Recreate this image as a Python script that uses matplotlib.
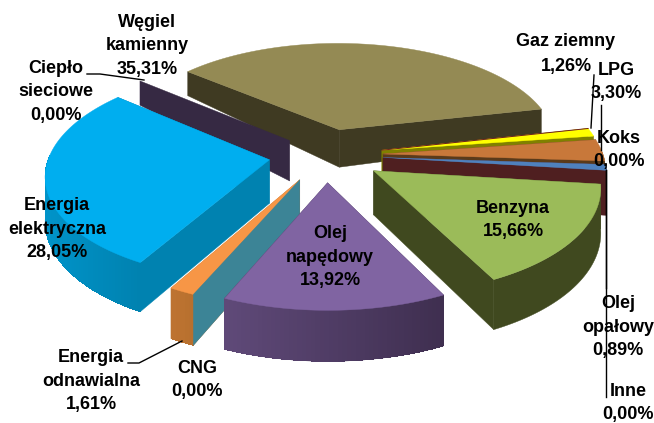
import numpy as np
import matplotlib
matplotlib.use("Agg")
import matplotlib.pyplot as plt
from matplotlib.colors import to_rgb
from matplotlib.patches import Polygon

names = ["Benzyna", "Olej napędowy", "CNG", "Energia odnawialna", "Energia elektryczna",
         "Ciepło sieciowe", "Węgiel kamienny", "Gaz ziemny", "LPG", "Koks", "Olej opałowy", "Inne"]
values = [15.66, 13.92, 0.00, 1.61, 28.05, 0.00, 35.31, 1.26, 3.30, 0.00, 0.89, 0.00]
top_colors = ["#9bbb59", "#8064a2", "#31859c", "#f79646", "#00aeef", "#362943",
              "#948a54", "#ffff00", "#c8783a", "#5a3a1a", "#4f81bd", "#4f1f20"]
side_colors = ["#40491f", "#3f2f50", "#3c8496", "#b8702f", "#0082b0", "#362943",
               "#3f3a22", "#808000", "#5a3a1a", "#5a3a1a", "#4f1f20", "#4f1f20"]
wall_light = [0.0, 0.5, 0.0, 0.1, 0.4, 0.0, 0.0, 0.0, 0.0, 0.0, 0.0, 0.0]

# draw order, back slices first
order = [6, 7, 8, 9, 10, 11, 5, 4, 3, 2, 1, 0]

label_text = [
    ("Benzyna\n15,66%", 513, 220),
    ("Olej\nnapędowy\n13,92%", 330, 257),
    ("CNG\n0,00%", 197, 380),
    ("Energia\nodnawialna\n1,61%", 91, 381),
    ("Energia\nelektryczna\n28,05%", 57, 229),
    ("Ciepło\nsieciowe\n0,00%", 56, 92),
    ("Węgiel\nkamienny\n35,31%", 147, 46),
    ("Gaz ziemny", 566, 41),
    ("1,26%", 566, 67),
    ("LPG\n3,30%", 616, 82),
    ("Koks\n0,00%", 619, 150),
    ("Olej\nopałowy\n0,89%", 618, 327),
    ("Inne\n0,00%", 628, 403),
]

start_angle = -7.0
cx, cy = 326, 155
radius = 220
tilt = 0.47
explode = 0.26
persp = 0.128


def project(X, Y):
    s = 1 / (1 + persp * Y)
    return cx + radius * X * s, cy - radius * tilt * Y * s


def depth(y):
    return np.interp(y, [80, 150, 297], [24, 43, 51])


def mix(c1, c2, t):
    return tuple(np.array(to_rgb(c1)) * (1 - t) + np.array(to_rgb(c2)) * t)


fig = plt.figure(figsize=(6.54, 4.23), dpi=100)
ax = fig.add_axes([0, 0, 1, 1])
ax.set_xlim(0, 654)
ax.set_ylim(423, 0)
ax.axis("off")

angles = start_angle - np.cumsum([0] + values) * 3.6


def quad(p1, p2, color, z):
    x = [p1[0], p2[0], p2[0], p1[0]]
    y = [p1[1], p2[1], p2[1] + depth(p2[1]), p1[1] + depth(p1[1])]
    ax.add_patch(Polygon(np.column_stack([x, y]), fc=color, ec=color, lw=0.3, zorder=z))


z = 1
for i in order:
    a1, a2 = np.radians(angles[i]), np.radians(angles[i + 1])
    mid = (a1 + a2) / 2
    e = explode
    if i == 5:
        e = 0.22
    if i == 2:
        # CNG wall stays on the edge of the next slice
        mid = np.radians(angles[3] + angles[4]) / 2
    ox, oy = e * np.cos(mid), e * np.sin(mid)
    t = np.linspace(a1, a2, max(2, int(abs(a2 - a1) * 60)))
    px, py = project(ox + np.cos(t), oy + np.sin(t))
    apex = project(ox, oy)
    if values[i] == 0:
        quad(apex, (px[0], py[0]), side_colors[i], z)
        z += 1
        continue
    # radial walls
    quad(apex, (px[0], py[0]), side_colors[i], z)
    quad(apex, (px[-1], py[-1]), side_colors[i], z)
    z += 1
    # outer wall: flat base and then lighter towards the left
    front = np.sin(t) < 0.05
    if front.sum() > 1:
        fx, fy = px[front], py[front]
        base = np.column_stack([np.r_[fx, fx[::-1]], np.r_[fy, (fy + depth(fy))[::-1]]])
        ax.add_patch(Polygon(base, fc=side_colors[i], ec=side_colors[i], lw=0.3, zorder=z))
        z += 1
        if wall_light[i] > 0:
            for j in range(len(fx) - 1):
                u = (fx[j] - fx.min()) / (fx.max() - fx.min())
                shade = mix(side_colors[i], top_colors[i], wall_light[i] * (1 - u))
                q = [(fx[j], fy[j]), (fx[j + 1], fy[j + 1]),
                     (fx[j + 1], fy[j + 1] + depth(fy[j + 1])), (fx[j], fy[j] + depth(fy[j]))]
                ax.add_patch(Polygon(q, fc=shade, ec="none", lw=0, aa=False, zorder=z))
            z += 1
    ax.add_patch(Polygon(np.column_stack([np.r_[apex[0], px], np.r_[apex[1], py]]),
                         fc=top_colors[i], ec=top_colors[i], lw=0.3, zorder=z))
    z += 1
    if i == 7:
        # thin dark edge along the back of the yellow slice
        ax.plot([apex[0], px[0]], [apex[1], py[0]], color="#6e1f1f", lw=0.7, zorder=z)
        z += 1

# leader lines
leaders = [
    ([87, 100, 144], [74, 74, 80]),
    ([128, 139, 182], [363, 363, 341]),
    ([594, 591], [75, 128]),
    ([601, 601], [105, 150]),
    ([606, 606], [170, 288]),
    ([606, 606], [170, 397]),
]
for lx, ly in leaders:
    ax.plot(lx, ly, color="black", lw=1.0, zorder=50)

for txt, x, y in label_text:
    ax.text(x, y, txt, ha="center", va="center", fontsize=13, fontweight="bold",
            family="Liberation Sans", color="black",
            linespacing=1.5, zorder=60)

fig.savefig("out.png", dpi=100)
